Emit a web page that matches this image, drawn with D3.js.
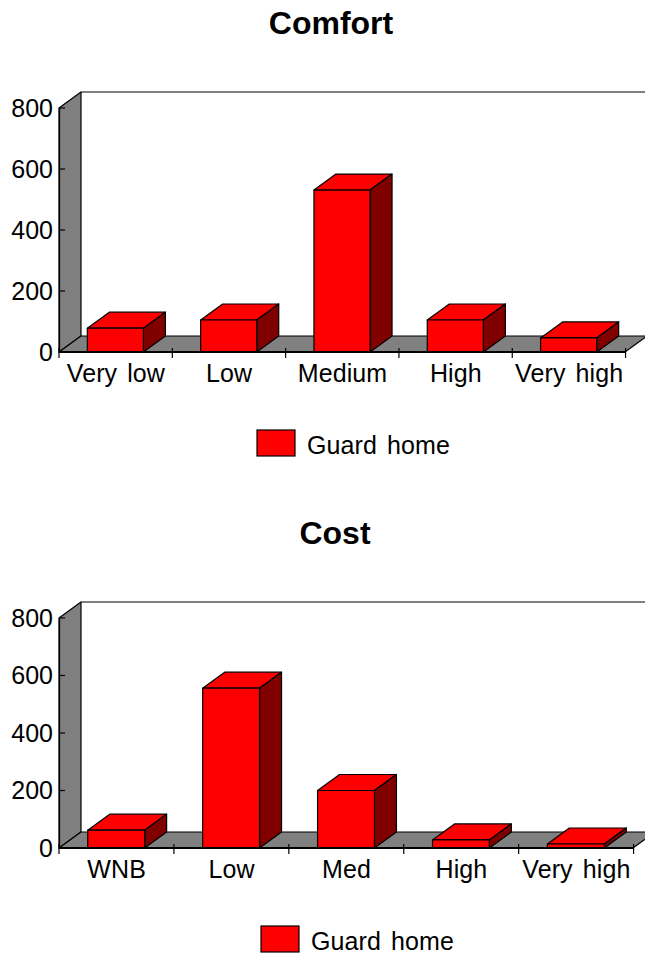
<!DOCTYPE html>
<html>
<head>
<meta charset="utf-8">
<script src="https://cdn.jsdelivr.net/npm/d3@7"></script>
<style>
  html, body { margin: 0; padding: 0; background: #fff; }
  svg { display: block; }
  text { font-family: "Liberation Sans", Arial, sans-serif; fill: #000; }
</style>
</head>
<body>
<svg id="chart" width="645" height="955"></svg>
<script>
const comfortCategories = ["Very low", "Low", "Medium", "High", "Very high"];
const comfortValues = [78, 105, 531, 105, 46];
const costCategories = ["WNB", "Low", "Med", "High", "Very high"];
const costValues = [62, 556, 200, 28, 14];
const yTickValues = [0, 200, 400, 600, 800];
const seriesName = "Guard home";

const RED = "#ff0000", DARK_RED = "#800000", GREY = "#808080";
const DEPTH_X = 22, DEPTH_Y = -16, WIDTH = 645;
const svg = d3.select("#chart");
const outline = d3.line();

function panel(cfg) {
  const g = svg.append("g");
  const y = d3.scaleLinear().domain([0, 800]).range([cfg.y0, cfg.y800]);
  const x = d3.scaleBand().domain(cfg.categories)
    .range([cfg.x0, cfg.x1]).paddingInner(0.505).paddingOuter(0.25);
  const yBase = y(0), yTop = y(800);

  g.append("text").attr("x", cfg.titleX).attr("y", cfg.titleY)
    .attr("text-anchor", "middle").attr("font-size", 32).attr("font-weight", "bold")
    .text(cfg.title);

  const poly = (pts, fill) => g.append("path")
    .attr("d", outline(pts) + "Z")
    .attr("fill", fill).attr("stroke", "#000").attr("stroke-width", 1.2)
    .attr("stroke-linejoin", "round");

  // Side wall and floor of the 3D plot box
  poly([[cfg.x0, yBase], [cfg.x0 + DEPTH_X, yBase + DEPTH_Y],
        [cfg.x0 + DEPTH_X, yTop + DEPTH_Y], [cfg.x0, yTop]], GREY);
  poly([[cfg.x0, yBase], [cfg.x1, yBase],
        [cfg.x1 + DEPTH_X, yBase + DEPTH_Y], [cfg.x0 + DEPTH_X, yBase + DEPTH_Y]], GREY);
  g.append("line")
    .attr("x1", cfg.x0 + DEPTH_X).attr("x2", WIDTH)
    .attr("y1", yTop + DEPTH_Y).attr("y2", yTop + DEPTH_Y)
    .attr("stroke", "#000");

  // Bars: front, top and side faces
  cfg.categories.forEach((c, i) => {
    const l = x(c), r = l + x.bandwidth(), t = y(cfg.values[i]);
    poly([[l, t], [l + DEPTH_X, t + DEPTH_Y], [r + DEPTH_X, t + DEPTH_Y], [r, t]], RED);
    poly([[r, t], [r + DEPTH_X, t + DEPTH_Y], [r + DEPTH_X, yBase + DEPTH_Y], [r, yBase]], DARK_RED);
    poly([[l, t], [r, t], [r, yBase], [l, yBase]], RED);
  });

  // Value axis
  const yAxis = g.append("g").attr("transform", `translate(${cfg.x0},0)`)
    .call(d3.axisLeft(y).tickValues(yTickValues).tickSize(0).tickPadding(6));
  yAxis.select(".domain").attr("stroke", "#000").attr("stroke-width", 1.3);
  yAxis.selectAll("text").attr("font-size", 25).attr("font-family", null);
  g.selectAll(null).data(yTickValues).join("line")
    .attr("x1", cfg.x0).attr("x2", cfg.x0 + 6)
    .attr("y1", d => y(d)).attr("y2", d => y(d))
    .attr("stroke", "#000").attr("stroke-width", 1.2);

  // Category axis: labels centred on bars, ticks between them
  const xAxis = g.append("g").attr("transform", `translate(0,${yBase})`)
    .call(d3.axisBottom(x).tickSize(0).tickPadding(cfg.labelPad));
  xAxis.select(".domain").remove();
  xAxis.selectAll("text").attr("font-size", 25).attr("font-family", null)
    .attr("letter-spacing", 0.1).attr("word-spacing", 3).attr("dx", 0.5);
  g.append("line").attr("x1", cfg.x0).attr("x2", cfg.x1)
    .attr("y1", yBase).attr("y2", yBase).attr("stroke", "#000").attr("stroke-width", 1.8);
  g.selectAll(null).data(d3.range(cfg.categories.length + 1)).join("line")
    .attr("x1", i => cfg.x0 + i * x.step()).attr("x2", i => cfg.x0 + i * x.step())
    .attr("y1", yBase - 4).attr("y2", yBase + 6)
    .attr("stroke", "#000").attr("stroke-width", 1.2);

  // Legend
  g.append("rect").attr("x", cfg.legendX).attr("y", cfg.legendY)
    .attr("width", 38).attr("height", 26)
    .attr("fill", RED).attr("stroke", "#000").attr("stroke-width", 1.2);
  g.append("text").attr("x", cfg.legendX + 50).attr("y", cfg.legendY + 24)
    .attr("font-size", 25).attr("letter-spacing", 0.1).attr("word-spacing", 3)
    .text(seriesName);
}

panel({
  title: "Comfort", titleX: 331, titleY: 34,
  categories: comfortCategories, values: comfortValues,
  x0: 59, x1: 625, y0: 352, y800: 108, labelPad: 12,
  legendX: 257, legendY: 430
});
panel({
  title: "Cost", titleX: 335, titleY: 544,
  categories: costCategories, values: costValues,
  x0: 59, x1: 633, y0: 848, y800: 618, labelPad: 12,
  legendX: 261, legendY: 926
});
</script>
</body>
</html>
